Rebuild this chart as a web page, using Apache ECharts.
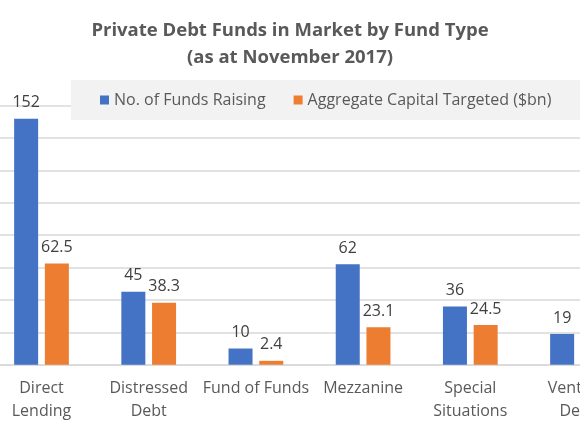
<!DOCTYPE html>
<html lang="en">
<head>
    <meta charset="UTF-8">
    <title>Private Debt Funds in Market by Fund Type</title>
    <style>
        html, body { margin: 0; padding: 0; background: #fff; overflow: hidden; }
        /* the reference is a crop of a wider chart: draw wider and shift left */
        #chart-container { position: absolute; left: -60px; top: 0; width: 700px; height: 435px; }
    </style>
</head>
<body>
    <div id="chart-container"></div>
    <script src="https://cdn.jsdelivr.net/npm/echarts@6/dist/echarts.min.js"></script>
    <script>
      // data
      const fundTypes = ['Direct\nLending', 'Distressed\nDebt', 'Fund of Funds', 'Mezzanine', 'Special\nSituations', 'Venture\nDebt'];
      const fundsRaising = [152, 45, 10, 62, 36, 19];
      const capitalTargeted = [62.5, 38.3, 2.4, 23.1, 24.5, 4.2];
      const yTicks = [0, 160, 20]; // min, max, interval

      var dom = document.getElementById('chart-container');
      var myChart = echarts.init(dom, null, { renderer: 'canvas' });

      const textGray = '#595959';
      const font = '"Open Sans", Lato, sans-serif';

      var option = {
        animation: false,
        title: {
          text: 'Private Debt Funds in Market by Fund Type\n(as at November 2017)',
          left: 'center',
          top: 12,
          textStyle: {
            fontFamily: font,
            fontWeight: 'bold',
            fontSize: 18.5,
            lineHeight: 27,
            color: textGray
          }
        },
        legend: {
          left: 131,
          top: 80,
          width: 600,
          padding: [12, 80, 12, 29],
          backgroundColor: '#f2f2f2',
          icon: 'rect',
          itemWidth: 9,
          itemHeight: 9,
          itemGap: 28,
          textStyle: { fontFamily: font, fontSize: 16, color: textGray }
        },
        grid: {
          left: 47.9,
          right: 8.9,
          top: 105.7,
          bottom: 70.3
        },
        xAxis: {
          type: 'category',
          data: fundTypes,
          axisTick: { show: false },
          axisLine: { lineStyle: { color: '#d9d9d9', width: 1.5 } },
          axisLabel: {
            interval: 0,
            margin: 12,
            fontFamily: font,
            fontSize: 16,
            lineHeight: 23,
            color: textGray
          }
        },
        yAxis: {
          type: 'value',
          min: yTicks[0],
          max: yTicks[1],
          interval: yTicks[2],
          axisLabel: { show: false },
          axisLine: { show: false },
          axisTick: { show: false },
          splitLine: { lineStyle: { color: '#d9d9d9', width: 1.5 } }
        },
        series: [
          {
            name: 'No. of Funds Raising',
            type: 'bar',
            data: fundsRaising,
            barWidth: 24,
            barGap: '28%',
            itemStyle: { color: '#4472C4' },
            label: {
              show: true,
              position: 'top',
              distance: 8,
              fontFamily: font,
              fontSize: 16,
              color: '#404040'
            }
          },
          {
            name: 'Aggregate Capital Targeted ($bn)',
            type: 'bar',
            data: capitalTargeted,
            barWidth: 24,
            itemStyle: { color: '#ED7D31' },
            label: {
              show: true,
              position: 'top',
              distance: 8,
              fontFamily: font,
              fontSize: 16,
              color: '#404040'
            }
          }
        ]
      };

      myChart.setOption(option);
      window.addEventListener('resize', myChart.resize);
    </script>
</body>
</html>
